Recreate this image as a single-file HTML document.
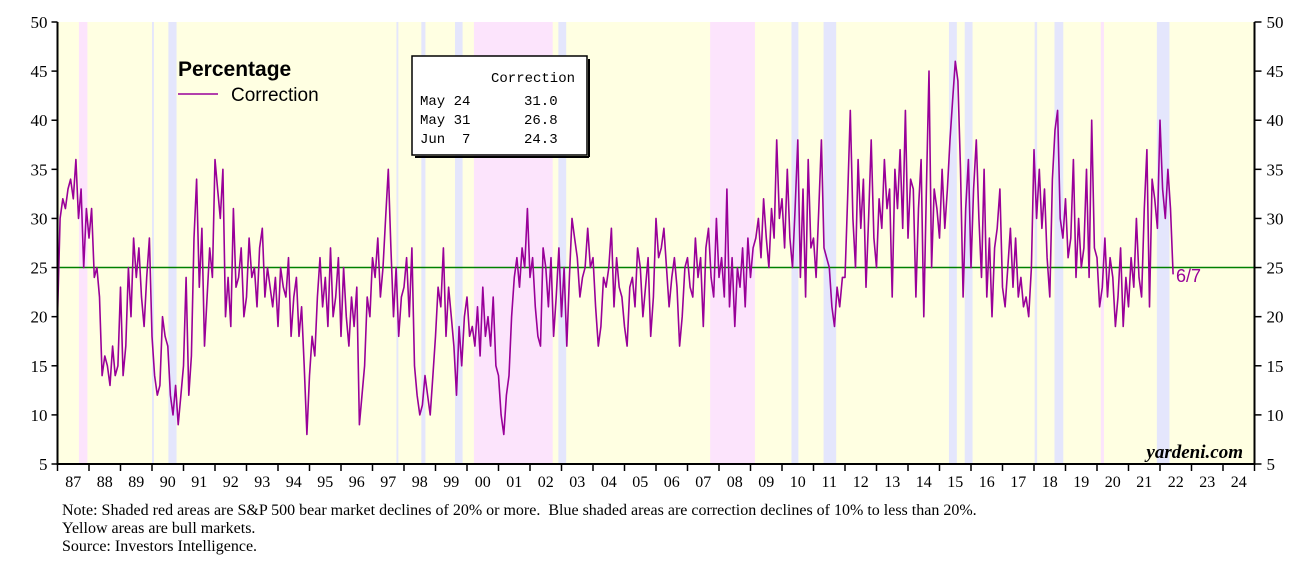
<!DOCTYPE html>
<html><head><meta charset="utf-8"><style>
body{margin:0;background:#fff;width:1315px;height:575px;overflow:hidden}
svg{display:block}
</style></head><body>
<svg id="chart" width="1315" height="575" xmlns="http://www.w3.org/2000/svg" font-family="Liberation Sans, sans-serif"></svg>
<script>
const startYear = 1987;
const yTicks = [5,10,15,20,25,30,35,40,45,50];
const yearLabels = ["87","88","89","90","91","92","93","94","95","96","97","98","99","00","01","02","03","04","05","06","07","08","09","10","11","12","13","14","15","16","17","18","19","20","21","22","23","24"];
const bearBands = [[1987.68,1987.95],[2000.22,2002.72],[2007.72,2009.14],[2020.12,2020.22]];
const corrBands = [[1990.52,1990.78],[1998.55,1998.68],[1999.62,1999.86],[2002.9,2003.15],[2010.3,2010.52],[2011.32,2011.72],[2015.3,2015.55],[2015.8,2016.05],[2018.02,2018.1],[2018.65,2018.93],[2021.9,2022.3]];
const thinBands = [[1990.0,1990.06],[1997.76,1997.82]];
const refLevel = 25;
const correction = [
20,30,32,31,33,34,32,36,30,33,25,31,
28,31,24,25,22,14,16,15,13,17,14,15,
23,14,17,25,20,28,24,27,22,19,24,28,
18,14,12,13,20,18,17,12,10,13,9,12,
15,24,12,16,28,34,23,29,17,22,27,24,
36,33,30,35,20,24,19,31,23,24,27,20,
22,28,24,25,21,27,29,22,25,23,21,24,
19,25,23,22,26,18,22,24,18,21,15,8,
14,18,16,22,26,21,24,19,27,20,22,26,
18,25,20,17,22,19,23,9,12,15,22,20,
26,24,28,22,25,30,35,27,20,25,18,22,
23,26,20,27,15,12,10,11,14,12,10,14,
18,23,21,27,18,23,20,17,12,19,15,20,
22,18,19,17,21,16,23,18,20,17,22,15,
14,10,8,12,14,20,24,26,23,27,25,31,
24,26,21,18,17,27,25,21,26,18,22,27,
20,25,17,24,30,28,26,22,24,25,29,25,
26,21,17,19,24,23,25,29,21,26,23,22,
19,17,23,24,21,27,25,20,23,26,18,22,
30,26,27,29,25,21,24,26,23,17,20,25,
26,23,22,28,24,26,19,27,29,24,22,30,
24,26,22,33,21,26,19,25,23,27,21,28,
24,27,28,30,26,32,28,25,31,28,38,30,
32,27,35,28,25,31,38,24,33,22,36,27,
28,24,31,38,27,26,25,21,19,23,21,24,
24,32,41,30,25,36,29,34,23,30,38,28,
25,32,29,36,31,33,22,35,31,37,29,41,
28,34,33,22,31,36,20,33,45,25,33,31,
28,35,29,33,38,42,46,44,35,22,31,36,
25,33,38,30,24,35,22,28,20,27,29,33,
23,21,25,29,23,28,22,24,21,22,20,25,
37,30,35,29,33,26,22,34,39,41,30,28,
32,26,28,36,24,30,25,27,35,24,40,27,
26,21,23,28,22,26,24,19,22,27,19,24,
21,26,23,30,24,22,31,37,21,34,32,29,
40,33,30,35,31,24.3];

const svg = document.getElementById('chart');
const NS = 'http://www.w3.org/2000/svg';
const X0 = 57.5, X1 = 1254.5, Y0 = 464, Y1 = 22;
const xS = yr => X0 + (yr - startYear) / 38 * (X1 - X0);
const yS = v => Y0 - (v - 5) / 45 * (Y0 - Y1);
function mk(tag, attrs, parent) {
  const e = document.createElementNS(NS, tag);
  for (const k in attrs) e.setAttribute(k, attrs[k]);
  (parent || svg).appendChild(e);
  return e;
}
const bg = mk('rect', {x:X0, y:Y1, width:X1-X0, height:Y0-Y1, fill:'#ffffe2'});


bearBands.forEach(b => {
  const r = mk('rect', {x:xS(b[0]), y:Y1, width:xS(b[1])-xS(b[0]), height:Y0-Y1, fill:'#fce4fc'});
  
  
});
corrBands.forEach(b => {
  const r = mk('rect', {x:xS(b[0]), y:Y1, width:xS(b[1])-xS(b[0]), height:Y0-Y1, fill:'#e4e6fc'});
  
  
});
thinBands.forEach(b => {
  const r = mk('rect', {x:xS(b[0]), y:Y1, width:xS(b[1])-xS(b[0]), height:Y0-Y1, fill:'#e4e6fc'});
  
  
});
const rl = mk('line', {x1:X0, x2:X1, y1:yS(refLevel), y2:yS(refLevel), stroke:'#008000', 'stroke-width':1.5});


const pts = correction.map((v,i) => xS(startYear + i/12 + 0.0).toFixed(1) + ',' + yS(v).toFixed(1)).join(' ');
const pl = mk('polyline', {points:pts, fill:'none', stroke:'#990099', 'stroke-width':1.6, 'stroke-linejoin':'round'});


const ax = mk('path', {d:`M${X0},${Y1} V${Y0} H${X1} V${Y1}`, fill:'none', stroke:'#000', 'stroke-width':2});


yTicks.forEach(v => {
  const y = yS(v);
  mk('line', {x1:X0-6, x2:X0, y1:y, y2:y, stroke:'#000', 'stroke-width':1.5});
  mk('line', {x1:X1, x2:X1+7, y1:y, y2:y, stroke:'#000', 'stroke-width':1.5});
  const t1 = mk('text', {x:X0-10, y:y+6, 'text-anchor':'end', 'font-size':17, 'font-family':'Liberation Serif, serif'});
  t1.textContent = v;
  
  
  const t2 = mk('text', {x:X1+12, y:y+6, 'text-anchor':'start', 'font-size':17, 'font-family':'Liberation Serif, serif'});
  t2.textContent = v;
  
  
});
yearLabels.forEach((lab,i) => {
  const x = xS(startYear + i);
  mk('line', {x1:x, x2:x, y1:Y0, y2:Y0+7, stroke:'#000', 'stroke-width':1.5});
  const t = mk('text', {x:xS(startYear + i + 0.5), y:Y0+23, 'text-anchor':'middle', 'font-size':16, 'font-family':'Liberation Serif, serif'});
  t.textContent = lab;
  
  
});
mk('line', {x1:X1, x2:X1, y1:Y0, y2:Y0+7, stroke:'#000', 'stroke-width':1.5});
</script>
<svg style="position:absolute;left:0;top:0" width="1315" height="575">
  <text x="178" y="76" font-family="Liberation Sans, sans-serif" font-weight="bold" font-size="21">Percentage</text>
  <line x1="178" x2="218" y1="94" y2="94" stroke="#990099" stroke-width="1.5"/>
  <text x="231" y="101" font-family="Liberation Sans, sans-serif" font-size="19">Correction</text>
  <g font-family="Liberation Mono, monospace" font-size="14">
    <rect x="412" y="56" width="175" height="99" fill="#fff" stroke="#000" stroke-width="1.5"/>
    <line x1="589" y1="59" x2="589" y2="157" stroke="#000" stroke-width="2"/>
    <line x1="415" y1="157" x2="589" y2="157" stroke="#000" stroke-width="2"/>
    <text x="491" y="82">Correction</text>
    <text x="420" y="105">May 24</text><text x="524" y="105">31.0</text>
    <text x="420" y="124">May 31</text><text x="524" y="124">26.8</text>
    <text x="420" y="143" xml:space="preserve">Jun  7</text><text x="524" y="143">24.3</text>
  </g>
  <text x="1176" y="282" fill="#990099" font-family="Liberation Sans, sans-serif" font-size="18">6/7</text>
  <text x="1243" y="458" text-anchor="end" font-family="Liberation Serif, serif" font-style="italic" font-weight="bold" font-size="19">yardeni.com</text>
  <g font-family="Liberation Serif, serif" font-size="16">
    <text x="62" y="515" xml:space="preserve">Note: Shaded red areas are S&amp;P 500 bear market declines of 20% or more.  Blue shaded areas are correction declines of 10% to less than 20%.</text>
    <text x="62" y="533">Yellow areas are bull markets.</text>
    <text x="62" y="551">Source: Investors Intelligence.</text>
  </g>
</svg>
</body></html>
